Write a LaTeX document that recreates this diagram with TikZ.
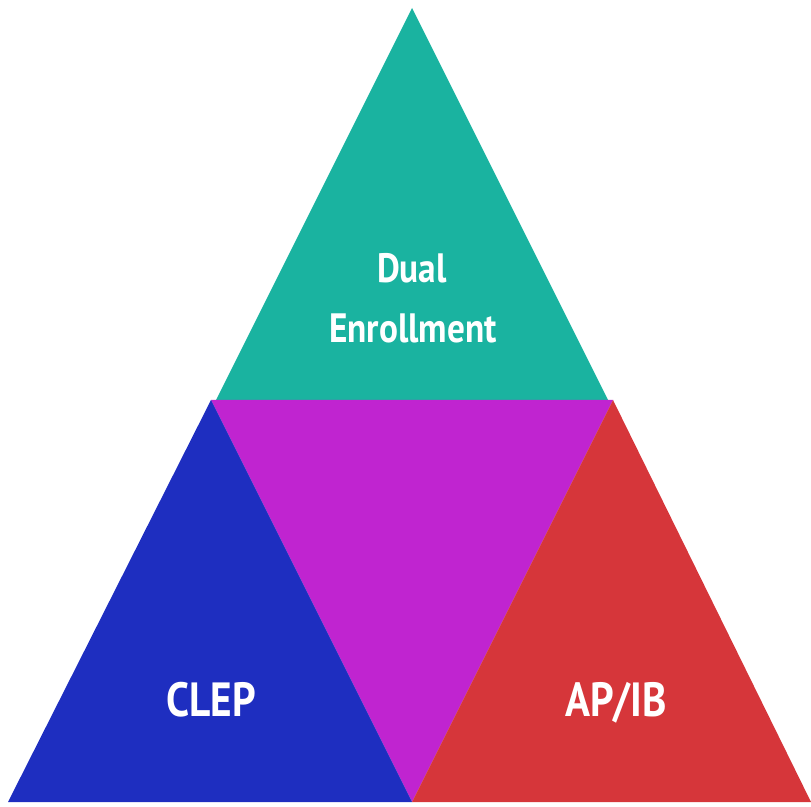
\documentclass[tikz,border=0pt]{standalone}
\usepackage{fontspec}
\setmainfont{PT Sans}
\newfontfamily\narrowsans[FakeStretch=0.86]{PT Sans}
\usepackage{tikz}

\definecolor{dualteal}{RGB}{26,179,160}
\definecolor{clepblue}{RGB}{30,46,192}
\definecolor{apred}{RGB}{214,54,58}
\definecolor{midmagenta}{RGB}{192,36,208}

\tikzset{
  label/.style={text=white, anchor=base, inner sep=0pt}
}

\begin{document}
\begin{tikzpicture}[x=1pt, y=1pt]
		\useasboundingbox (0,0) rectangle (811,806);

		% Dual Enrollment (top)
		\fill[dualteal] (412,798) -- (216,406) -- (608,406) -- cycle;
		\node[label, font=\narrowsans\bfseries\fontsize{41}{48}\selectfont] (dual) at (412,523) {Dual};
		\node[label, font=\narrowsans\bfseries\fontsize{41}{48}\selectfont] (enroll) at (413,463) {Enrollment};

		% middle
		\fill[midmagenta] (211,406) -- (613,406) -- (412,4) -- cycle;

		% CLEP (left)
		\fill[clepblue] (211,406) -- (8,4) -- (412,4) -- cycle;
		\node[label, font=\narrowsans\bfseries\fontsize{48}{56}\selectfont] (clep) at (211,89) {CLEP};

		% AP/IB (right)
		\fill[apred] (613,406) -- (412,4) -- (811,4) -- cycle;
		\node[label, font=\narrowsans\bfseries\fontsize{48}{56}\selectfont] (apib) at (616,89) {AP/IB};
	\end{tikzpicture}
\end{document}
